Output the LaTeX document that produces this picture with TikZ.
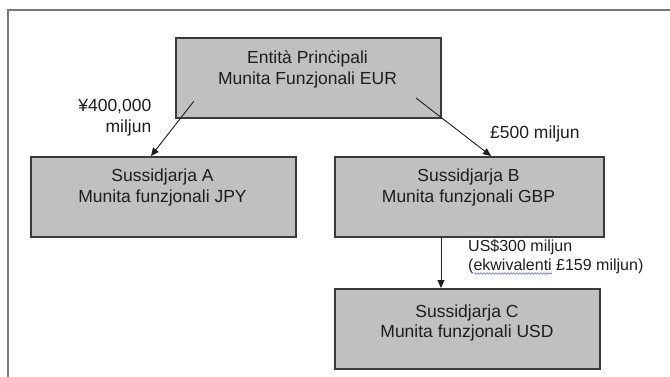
\documentclass[tikz,border=0pt]{standalone}
\usepackage{fontspec}
\setmainfont{Liberation Sans}
\usetikzlibrary{arrows.meta,decorations.pathmorphing}
\definecolor{boxfill}{HTML}{C0C0C0}
\definecolor{boxline}{HTML}{3A3A3A}
\definecolor{framecol}{HTML}{7A7A7A}
\definecolor{txtcol}{HTML}{1E1E1E}
\definecolor{squig}{HTML}{5A6CE0}
\begin{document}
\begin{tikzpicture}[x=1pt,y=-1pt,
  box/.style={draw=boxline, line width=1.5pt, fill=boxfill, minimum width=#1,
    minimum height=80pt, inner sep=0pt, anchor=north west},
  txt/.style={text=txtcol, inner sep=0pt, anchor=base, font=\fontsize{17.5}{21}\selectfont},
  lbl/.style={text=txtcol, inner sep=0pt, font=\fontsize{17.5}{21}\selectfont},
  lblsmall/.style={text=txtcol, inner sep=0pt, anchor=base west, font=\fontsize{16}{19}\selectfont},
  conn/.style={draw=txtcol, line width=0.9pt, -{Triangle[length=8pt,width=7pt]}}]
\useasboundingbox (0,0) rectangle (670,376);
% outer frame
\draw[framecol, line width=1.3pt] (8,380) -- (8,10) -- (675,10);
% boxes
\node[box=265pt] (top) at (175,37) {};
\node[box=265pt] (A) at (30,156) {};
\node[box=269pt] (B) at (334,156) {};
\node[box=265pt] (C) at (334,288) {};
% box texts
\node[txt] (top1) at (307.5,63) {Entità Prinċipali};
\node[txt] (top2) at (307.5,84) {Munita Funzjonali EUR};
\node[txt] (A1) at (162.5,181.5) {Sussidjarja A};
\node[txt] (A2) at (162.5,202.5) {Munita funzjonali JPY};
\node[txt] (B1) at (468.5,181) {Sussidjarja B};
\node[txt] (B2) at (468.5,202) {Munita funzjonali GBP};
\node[txt] (C1) at (467,317) {Sussidjarja C};
\node[txt] (C2) at (467,337) {Munita funzjonali USD};
% connectors
\coordinate (sA) at (194,101);
\coordinate (tA) at (151,156);
\coordinate (sB) at (416,98);
\coordinate (tB) at (491,156);
\draw[conn] (sA) -- (tA);
\draw[conn] (sB) -- (tB);
\draw[conn] (B.south -| 441,0) -- (C.north -| 441,0);
% labels
\node[lbl, anchor=base east] (l1) at (151.5,111) {¥400,000};
\node[lbl, anchor=base east] (l2) at (151.5,132) {miljun};
\node[lbl, anchor=base west] (l3) at (490,138) {£500 miljun};
\node[lblsmall] (l4) at (468,251) {US\$300 miljun};
\node[lblsmall] (l5) at (468,270) {(ekwivalenti £159 miljun)};
% spell-check squiggle
\draw[squig, line width=0.6pt, decorate, decoration={snake, amplitude=0.8pt, segment length=3pt}]
  (474,273.5) -- (552,273.5);
\end{tikzpicture}
\end{document}
